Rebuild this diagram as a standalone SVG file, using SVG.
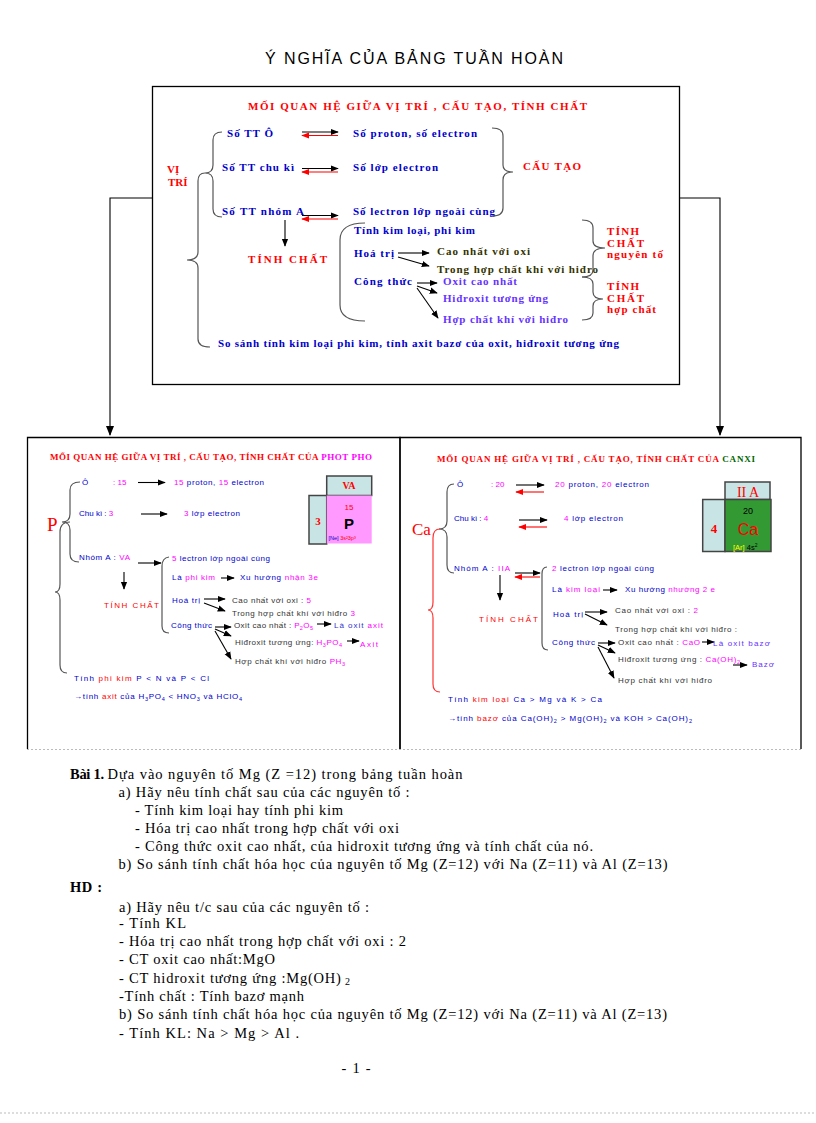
<svg xmlns="http://www.w3.org/2000/svg" width="816" height="1123" viewBox="0 0 816 1123">
<defs>
<style>
.bx{fill:none;stroke:#000;stroke-width:1.3}
.ln{fill:none;stroke:#000;stroke-width:1.1}
.rl{fill:none;stroke:#f00;stroke-width:1.1}
.br{fill:none;stroke:#555;stroke-width:1.2}
.rbr{fill:none;stroke:#f33;stroke-width:1.2}
.t{font-family:"Liberation Serif",serif;font-weight:bold;font-size:11px}
.s{font-family:"Liberation Sans",Arial,sans-serif;font-size:8px}
.st{font-family:"Liberation Serif",serif;font-weight:bold;font-size:9px;fill:#f00}
.doc{font-family:"Liberation Serif",serif;font-size:14.5px;fill:#000}
.b{fill:#0000cc}.r{fill:#f00}.m{fill:#ff00ff}.p{fill:#6633ff}.d{fill:#333}.g{fill:#006600}
.cell{stroke:#444;stroke-width:1.5}
.dot{stroke:#bbb;stroke-width:1;stroke-dasharray:2,2;fill:none}
</style>
<marker id="ah" viewBox="0 0 10 10" refX="9" refY="5" markerWidth="8" markerHeight="8" markerUnits="userSpaceOnUse" orient="auto"><path d="M0,1 L10,5 L0,9 Z" fill="#000"/></marker>
<marker id="ahr" viewBox="0 0 10 10" refX="9" refY="5" markerWidth="8" markerHeight="8" markerUnits="userSpaceOnUse" orient="auto"><path d="M0,1 L10,5 L0,9 Z" fill="#f00"/></marker>
<marker id="ahb" viewBox="0 0 10 10" refX="9" refY="5" markerWidth="10" markerHeight="10" markerUnits="userSpaceOnUse" orient="auto"><path d="M0,1 L10,5 L0,9 Z" fill="#000"/></marker>
</defs>
<rect width="816" height="1123" fill="#fff"/>

<g id="title">
<text x="265" y="64" font-family="Liberation Sans, Arial, sans-serif" font-size="16" textLength="298" lengthAdjust="spacing">Ý NGHĨA  CỦA BẢNG  TUẦN HOÀN</text>
</g>

<g id="connectors">
<path class="ln" stroke-width="1.6" d="M152 198 H110 V435" marker-end="url(#ahb)"/>
<path class="ln" stroke-width="1.6" d="M679 198 H720 V435" marker-end="url(#ahb)"/>
</g>

<g id="top-box">
<rect class="bx" x="152.5" y="86.5" width="527" height="298"/>
<text class="t r" x="248" y="110" textLength="339" lengthAdjust="spacing">MỐI QUAN HỆ GIỮA VỊ TRÍ , CẤU TẠO, TÍNH CHẤT</text>
<text class="t r" x="167" y="173">VỊ</text>
<text class="t r" x="168" y="186">TRÍ</text>
<text class="t b" x="227" y="137" textLength="46" lengthAdjust="spacing">Số TT Ô</text>
<text class="t b" x="222" y="171" textLength="72" lengthAdjust="spacing">Số TT chu kì</text>
<text class="t b" x="222" y="215" textLength="82" lengthAdjust="spacing">Số TT nhóm A</text>
<path class="ln" d="M302 132 H338" marker-end="url(#ah)"/>
<path class="rl" d="M338 135.5 H302" marker-end="url(#ahr)"/>
<path class="ln" d="M302 168.5 H338" marker-end="url(#ah)"/>
<path class="rl" d="M338 172 H302" marker-end="url(#ahr)"/>
<path class="ln" d="M302 215.5 H338" marker-end="url(#ah)"/>
<path class="rl" d="M338 219 H302" marker-end="url(#ahr)"/>
<text class="t b" x="353" y="137" textLength="124" lengthAdjust="spacing">Số proton, số electron</text>
<text class="t b" x="353" y="171" textLength="85" lengthAdjust="spacing">Số lớp electron</text>
<text class="t b" x="353" y="215" textLength="142" lengthAdjust="spacing">Số lectron lớp ngoài cùng</text>
<path class="br" d="M222 132 Q213 132 213 140 L213 165 Q213 173 205 173 Q213 173 213 181 L213 209 Q213 217 222 217"/>
<path class="br" d="M205 173 Q198 173 198 181 L198 252 Q198 260 187 260 Q198 260 198 268 L198 339 Q198 347 210 347"/>
<path class="br" d="M492 128 Q503 128 503 136 L503 165 Q503 172 513 172 Q503 172 503 180 L503 208 Q503 216 492 216"/>
<text class="t r" x="523" y="170" textLength="58" lengthAdjust="spacing">CẤU TẠO</text>
<path class="ln" d="M285 220 V246" marker-end="url(#ah)"/>
<text class="t r" x="248" y="263" textLength="79" lengthAdjust="spacing">TÍNH CHẤT</text>
<path class="br" d="M365 223 Q340 223 340 240 L340 305 Q340 321 365 321"/>
<text class="t b" x="354" y="234" textLength="121" lengthAdjust="spacing">Tính kim loại, phi kim</text>
<text class="t b" x="354" y="257" textLength="40" lengthAdjust="spacing">Hoá trị</text>
<path class="ln" d="M398 253 H429" marker-end="url(#ah)"/>
<path class="ln" d="M398 257 L429 266" marker-end="url(#ah)"/>
<text class="t" fill="#333300" x="437" y="255" textLength="93" lengthAdjust="spacing">Cao nhất với oxi</text>
<text class="t" fill="#333300" x="437" y="273" textLength="161" lengthAdjust="spacing">Trong hợp chất khí với hiđro</text>
<text class="t b" x="354" y="285" textLength="58" lengthAdjust="spacing">Công thức</text>
<path class="ln" d="M417 283 H437" marker-end="url(#ah)"/>
<path class="ln" d="M417 286 L437 293" marker-end="url(#ah)"/>
<path class="ln" d="M417 288 L438 318" marker-end="url(#ah)"/>
<text class="t p" x="443" y="285" textLength="74" lengthAdjust="spacing">Oxit cao nhất</text>
<text class="t p" x="443" y="302" textLength="105" lengthAdjust="spacing">Hiđroxit tương ứng</text>
<text class="t p" x="443" y="323" textLength="125" lengthAdjust="spacing">Hợp chất khí với hiđro</text>
<path class="br" d="M582 220 Q593 220 593 228 L593 241 Q593 248 605 248 Q593 248 593 256 L593 270 Q593 277 582 277"/>
<path class="br" d="M582 277 Q593 277 593 284 L593 292 Q593 299 603 299 Q593 299 593 306 L593 313 Q593 320 582 320"/>
<text class="t r" x="607" y="235" textLength="32" lengthAdjust="spacing">TÍNH</text>
<text class="t r" x="607" y="247" textLength="37" lengthAdjust="spacing">CHẤT</text>
<text class="t r" x="607" y="258" textLength="56" lengthAdjust="spacing">nguyên tố</text>
<text class="t r" x="607" y="290" textLength="32" lengthAdjust="spacing">TÍNH</text>
<text class="t r" x="607" y="302" textLength="37" lengthAdjust="spacing">CHẤT</text>
<text class="t r" x="607" y="313" textLength="49" lengthAdjust="spacing">hợp chất</text>
<text class="t b" x="218" y="347" textLength="401" lengthAdjust="spacing">So sánh tính kim loại phi kim, tính axit bazơ của oxit, hiđroxit tương ứng</text>
</g>

<g id="phosphorus-box">
<path class="bx" d="M27.5 749 V437.5 H400 V749"/>
<text class="st" x="50" y="460" textLength="322" lengthAdjust="spacing">MỐI QUAN HỆ GIỮA VỊ TRÍ , CẤU TẠO, TÍNH CHẤT  CỦA  <tspan class="m">PHOT PHO</tspan></text>
<text x="47" y="531" font-family="Liberation Serif, serif" font-size="19" fill="#f00">P</text>
<path class="br" d="M80 482 Q70 482 70 490 L70 514 Q70 522 62 522 Q70 522 70 530 L70 554 Q70 562 79 562"/>
<path class="br" d="M70 522 Q60 522 60 532 L60 584 Q60 592 55 592 Q60 592 60 600 L60 665 Q60 673 67 673"/>
<text class="s b" x="82" y="485">Ô</text>
<text class="s m" x="113" y="485">: 15</text>
<path class="ln" d="M138 482.5 H165" marker-end="url(#ah)"/>
<text class="s b" x="174" y="485" textLength="90" lengthAdjust="spacing"><tspan class="m">15 </tspan>proton, <tspan class="m">15 </tspan>electron</text>
<text class="s b" x="79" y="516">Chu kì   :  <tspan class="m">3</tspan></text>
<path class="ln" d="M141 514 H167" marker-end="url(#ah)"/>
<text class="s b" x="184" y="516" textLength="56" lengthAdjust="spacing"><tspan class="m">3</tspan>  lớp electron</text>
<text class="s b" x="79" y="560" textLength="51" lengthAdjust="spacing">Nhóm A : <tspan class="m">VA</tspan></text>
<path class="ln" d="M138 563 H161" marker-end="url(#ah)"/>
<path class="ln" d="M124 572 V589" marker-end="url(#ah)"/>
<path class="br" d="M169 557 Q162 558 162 566 L162 626 Q162 633 169 633"/>
<text class="s b" x="172" y="561" textLength="98" lengthAdjust="spacing"><tspan class="m">5</tspan> lectron lớp ngoài cùng</text>
<text class="s b" x="172" y="580" textLength="43" lengthAdjust="spacing">Là <tspan class="m">phi kim</tspan></text>
<path class="ln" d="M221 578 H234" marker-end="url(#ah)"/>
<text class="s b" x="240" y="580" textLength="78" lengthAdjust="spacing">Xu hướng  <tspan class="m">nhận 3e</tspan></text>
<text class="s r" x="104" y="608" font-size="9.5" textLength="55" lengthAdjust="spacing">TÍNH CHẤT</text>
<text class="s b" x="172" y="603" textLength="28" lengthAdjust="spacing">Hoá trị</text>
<path class="ln" d="M204 599 H225" marker-end="url(#ah)"/>
<path class="ln" d="M204 603 L225 611" marker-end="url(#ah)"/>
<text class="s d" x="232" y="603" textLength="79" lengthAdjust="spacing">Cao nhất với oxi  : <tspan class="m">5</tspan></text>
<text class="s d" x="232" y="616" textLength="123" lengthAdjust="spacing">Trong hợp chất khí với hiđro  <tspan class="m">3</tspan></text>
<text class="s b" x="171" y="628" textLength="41" lengthAdjust="spacing">Công thức</text>
<path class="ln" d="M215 627 H231" marker-end="url(#ah)"/>
<path class="ln" d="M215 629 L231 636" marker-end="url(#ah)"/>
<path class="ln" d="M215 631 L231 659" marker-end="url(#ah)"/>
<text class="s d" x="234" y="628" textLength="79" lengthAdjust="spacing">Oxit cao nhất : <tspan class="m">P<tspan font-size="5.5" dy="2">2</tspan><tspan dy="-2">O</tspan><tspan font-size="5.5" dy="2">5</tspan></tspan></text>
<path class="ln" d="M317 624 H331" marker-end="url(#ah)"/>
<text class="s" x="334" y="628" font-size="10.5" fill="#3333cc" textLength="49" lengthAdjust="spacing">Là oxit <tspan class="m">axit</tspan></text>
<text class="s d" x="235" y="645" textLength="107" lengthAdjust="spacing">Hiđroxit tương ứng: <tspan class="m">H<tspan font-size="5.5" dy="2">3</tspan><tspan dy="-2">PO</tspan><tspan font-size="5.5" dy="2">4</tspan></tspan></text>
<path class="ln" d="M347 641 H359" marker-end="url(#ah)"/>
<text class="s m" x="360" y="647" font-size="10.5" textLength="18" lengthAdjust="spacing">Axit</text>
<text class="s d" x="235" y="664" textLength="110" lengthAdjust="spacing">Hợp chất khí với hiđro  <tspan class="m">PH<tspan font-size="5.5" dy="2">3</tspan></tspan></text>
<text class="s b" x="74" y="681" textLength="135" lengthAdjust="spacing">Tính  <tspan class="r">phi kim</tspan>       P &lt; N   và P &lt; Cl</text>
<text class="s b" x="74" y="699" textLength="168" lengthAdjust="spacing">→tính <tspan class="r">axit</tspan> của    H<tspan font-size="5.5" dy="2">3</tspan><tspan dy="-2">PO</tspan><tspan font-size="5.5" dy="2">4</tspan><tspan dy="-2"> &lt; HNO</tspan><tspan font-size="5.5" dy="2">3</tspan><tspan dy="-2">  và HClO</tspan><tspan font-size="5.5" dy="2">4</tspan></text>
</g>

<g id="phosphorus-cell">
<rect class="cell" x="326.7" y="476" width="45" height="19.5" fill="#c9e4e4"/>
<rect class="cell" x="309" y="495.5" width="17.7" height="48.5" fill="#c9e4e4"/>
<rect x="326.7" y="495.5" width="45" height="48" fill="#ff99ff"/>
<text x="349" y="488.5" font-family="Liberation Serif, serif" font-weight="bold" font-size="10" fill="#f00" text-anchor="middle">VA</text>
<text x="318" y="525" font-family="Liberation Serif, serif" font-weight="bold" font-size="11" fill="#f00" text-anchor="middle">3</text>
<text x="349" y="510" font-family="Liberation Sans, sans-serif" font-size="8" fill="#f00" text-anchor="middle">15</text>
<text x="349" y="529" font-family="Liberation Sans, sans-serif" font-weight="bold" font-size="15" fill="#000" text-anchor="middle">P</text>
<text x="328.5" y="539.5" font-family="Liberation Sans, sans-serif" font-size="5.5" fill="#0000cc">[Ne] <tspan fill="#f00">3s²3p³</tspan></text>
</g>

<g id="calcium-box">
<path class="bx" d="M400 749 V437.5 H801 V749"/>
<text class="st" x="437" y="462" textLength="318" lengthAdjust="spacing">MỐI QUAN HỆ GIỮA VỊ TRÍ , CẤU TẠO, TÍNH CHẤT CỦA  <tspan class="g">CANXI</tspan></text>
<text x="412" y="535" font-family="Liberation Serif, serif" font-size="17" fill="#f00">Ca</text>
<path class="br" d="M454 484 Q447 484 447 492 L447 521 Q447 529 439 529 Q447 529 447 537 L447 565 Q447 573 454 573"/>
<path class="rbr" d="M440 529 Q433 529 433 538 L433 602 Q433 610 428 610 Q433 610 433 618 L433 684 Q433 692 440 692"/>
<text class="s b" x="457" y="487">Ô</text>
<text class="s m" x="491" y="487">: 20</text>
<path class="ln" d="M516 485 H544" marker-end="url(#ah)"/>
<path class="rl" d="M544 492 H516" marker-end="url(#ahr)"/>
<text class="s b" x="555" y="487" textLength="94" lengthAdjust="spacing"><tspan class="m">20</tspan>  proton, <tspan class="m">20</tspan>  electron</text>
<text class="s b" x="454" y="521">Chu kì    :  <tspan class="m">4</tspan></text>
<path class="ln" d="M519 520 H547" marker-end="url(#ah)"/>
<path class="rl" d="M547 527 H519" marker-end="url(#ahr)"/>
<text class="s b" x="564" y="521" textLength="59" lengthAdjust="spacing"><tspan class="m">4</tspan>  lớp electron</text>
<text class="s b" x="454" y="571" textLength="56" lengthAdjust="spacing">Nhóm A : <tspan class="m">IIA</tspan></text>
<path class="ln" d="M515 573 H540" marker-end="url(#ah)"/>
<path class="rl" d="M540 577 H515" marker-end="url(#ahr)"/>
<path class="ln" d="M500 575 V600" marker-end="url(#ah)"/>
<path class="br" d="M547 567 Q542 567 542 574 L542 643 Q542 650 548 650"/>
<text class="s b" x="552" y="571" textLength="102" lengthAdjust="spacing"><tspan class="m">2</tspan> lectron lớp ngoài cùng</text>
<text class="s b" x="552" y="592" textLength="48" lengthAdjust="spacing">Là <tspan class="m">kim loại</tspan></text>
<path class="ln" d="M603 590 H617" marker-end="url(#ah)"/>
<text class="s b" x="625" y="592" textLength="90" lengthAdjust="spacing">Xu hướng   <tspan class="m">nhường 2 e</tspan></text>
<text class="s r" x="479" y="622" font-size="10.5" textLength="59" lengthAdjust="spacing">TÍNH CHẤT</text>
<text class="s b" x="553" y="617" textLength="30" lengthAdjust="spacing">Hoá trị</text>
<path class="ln" d="M585 612 H607" marker-end="url(#ah)"/>
<path class="ln" d="M585 614 L607 625" marker-end="url(#ah)"/>
<text class="s d" x="615" y="613" textLength="83" lengthAdjust="spacing">Cao nhất với oxi  : <tspan class="m">2</tspan></text>
<text class="s d" x="615" y="632" textLength="122" lengthAdjust="spacing">Trong hợp chất khí với hiđro :</text>
<text class="s b" x="552" y="645" textLength="43" lengthAdjust="spacing">Công thức</text>
<path class="ln" d="M598 643 H615" marker-end="url(#ah)"/>
<path class="ln" d="M598 645 L615 653" marker-end="url(#ah)"/>
<path class="ln" d="M598 647 L614 678" marker-end="url(#ah)"/>
<text class="s d" x="618" y="645" textLength="82" lengthAdjust="spacing">Oxit cao nhất : <tspan class="m">CaO</tspan></text>
<path class="ln" d="M702 642 H714" marker-end="url(#ah)"/>
<text class="s p" x="713" y="646" font-size="11" textLength="57" lengthAdjust="spacing">Là oxit bazơ</text>
<text class="s d" x="618" y="662" textLength="122" lengthAdjust="spacing">Hiđroxit tương ứng : <tspan class="m">Ca(OH)<tspan font-size="5.5" dy="2">2</tspan></tspan></text>
<path class="ln" d="M733 665 H747" marker-end="url(#ah)"/>
<text class="s p" x="752" y="667" font-size="11" textLength="22" lengthAdjust="spacing">Bazơ</text>
<text class="s d" x="618" y="683" textLength="94" lengthAdjust="spacing">Hợp chất khí với hiđro</text>
<text class="s b" x="448" y="702" textLength="154" lengthAdjust="spacing">Tính  <tspan class="r">kim loại</tspan>      Ca &gt; Mg  và  K &gt; Ca</text>
<text class="s b" x="448" y="721" textLength="244" lengthAdjust="spacing">→tính <tspan class="r">bazơ</tspan> của   Ca(OH)<tspan font-size="5.5" dy="2">2</tspan><tspan dy="-2"> &gt; Mg(OH)</tspan><tspan font-size="5.5" dy="2">2</tspan><tspan dy="-2">  và KOH &gt; Ca(OH)</tspan><tspan font-size="5.5" dy="2">2</tspan></text>
</g>

<g id="calcium-cell">
<rect class="cell" x="725" y="482" width="45" height="17.5" fill="#c9e4e4"/>
<rect class="cell" x="702.7" y="499.5" width="22.3" height="52" fill="#c9e4e4"/>
<rect class="cell" x="725" y="499.5" width="46" height="52" fill="#339933"/>
<text x="748" y="497" font-family="Liberation Serif, serif" font-size="14" fill="#f00" text-anchor="middle">II A</text>
<text x="714" y="533" font-family="Liberation Serif, serif" font-weight="bold" font-size="13" fill="#f00" text-anchor="middle">4</text>
<text x="748" y="514" font-family="Liberation Sans, sans-serif" font-size="9" fill="#000" text-anchor="middle">20</text>
<text x="748" y="535" font-family="Liberation Sans, sans-serif" font-size="16" fill="#f00" text-anchor="middle">Ca</text>
<text x="733" y="549.5" font-family="Liberation Sans, sans-serif" font-size="7.5" fill="#ffff00">[Ar] <tspan fill="#000">4s<tspan font-size="5" dy="-3">2</tspan></tspan></text>
</g>

<g id="exercise">
<text class="doc" x="70" y="779" font-weight="bold" textLength="34" lengthAdjust="spacing">Bài 1.</text>
<text class="doc" x="107.5" y="779" textLength="355" lengthAdjust="spacing">Dựa vào nguyên  tố Mg (Z =12) trong  bảng tuần hoàn</text>
<text class="doc" x="118.5" y="797" textLength="291" lengthAdjust="spacing">a) Hãy nêu tính  chất sau của các nguyên  tố :</text>
<text class="doc" x="135" y="815" textLength="208" lengthAdjust="spacing">- Tính  kim loại hay tính phi kim</text>
<text class="doc" x="135" y="833" textLength="264" lengthAdjust="spacing">- Hóa trị cao nhất  trong  hợp chất với  oxi</text>
<text class="doc" x="135" y="851" textLength="458" lengthAdjust="spacing">- Công thức oxit  cao nhất,  của hidroxit  tương ứng và tính  chất  của nó.</text>
<text class="doc" x="118.5" y="869" textLength="549" lengthAdjust="spacing">b) So sánh tính  chất hóa học của nguyên  tố Mg (Z=12) với  Na (Z=11) và Al (Z=13)</text>
<text class="doc" x="70" y="892" font-weight="bold" textLength="32" lengthAdjust="spacing">HD :</text>
<text class="doc" x="119" y="912" textLength="250" lengthAdjust="spacing">a) Hãy nêu t/c sau  của các nguyên  tố :</text>
<text class="doc" x="119" y="928" textLength="67" lengthAdjust="spacing">- Tính  KL</text>
<text class="doc" x="119" y="946" textLength="287" lengthAdjust="spacing">- Hóa trị cao nhất  trong  hợp chất với  oxi  : 2</text>
<text class="doc" x="119" y="964" textLength="156" lengthAdjust="spacing">- CT oxit  cao nhất:MgO</text>
<text class="doc" x="119" y="983" textLength="231" lengthAdjust="spacing">- CT hidroxit  tương ứng :Mg(OH)<tspan font-size="10" dy="2"> 2</tspan></text>
<text class="doc" x="119" y="1001" textLength="185" lengthAdjust="spacing">-Tính  chất : Tính  bazơ mạnh</text>
<text class="doc" x="119" y="1019" textLength="548" lengthAdjust="spacing">b) So sánh tính  chất hóa học của nguyên  tố Mg (Z=12) với  Na (Z=11) và Al (Z=13)</text>
<text class="doc" x="119" y="1038" textLength="180" lengthAdjust="spacing">- Tính  KL: Na &gt; Mg &gt; Al .</text>
<text class="doc" x="341.5" y="1073" textLength="29" lengthAdjust="spacing">- 1 -</text>
</g>
<line class="dot" x1="27" y1="749.5" x2="801" y2="749.5"/>
<line class="dot" x1="0" y1="1113" x2="816" y2="1113"/>
</svg>
